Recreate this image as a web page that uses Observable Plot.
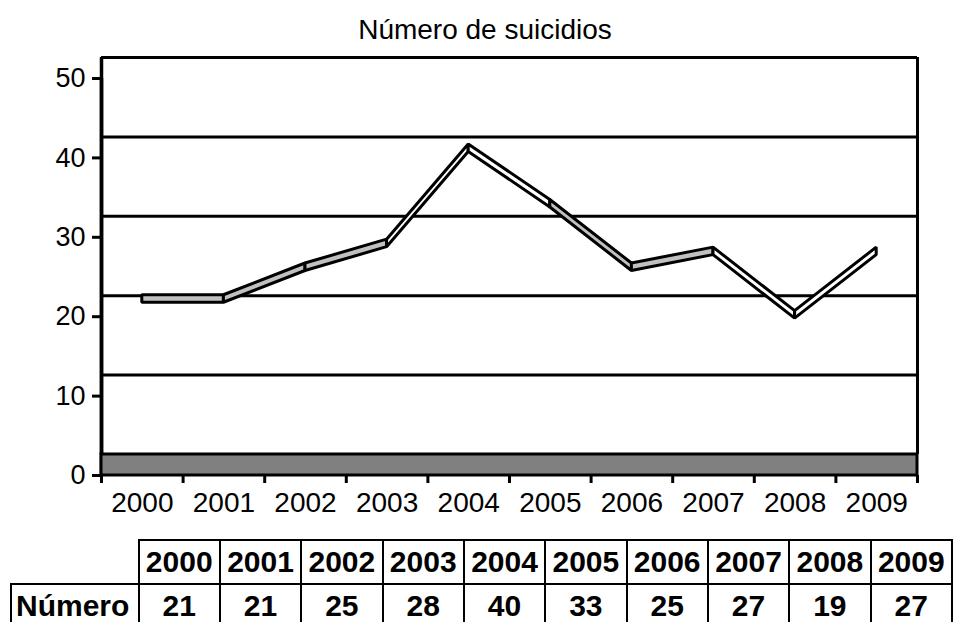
<!DOCTYPE html>
<html><head><meta charset="utf-8">
<script src="https://cdn.jsdelivr.net/npm/d3@7"></script>
<script src="https://cdn.jsdelivr.net/npm/@observablehq/plot@0.6"></script>
<style>
body{margin:0;background:#fff;font-family:"Liberation Sans",Arial,sans-serif;color:#000;width:953px;height:622px;overflow:hidden;position:relative}
#title{position:absolute;left:0;top:15px;width:970px;text-align:center;font-size:28px;line-height:30px}
#chart{position:absolute;left:0;top:50px}
table{position:absolute;left:10px;top:539px;border-collapse:collapse;table-layout:fixed;font-weight:bold;font-size:30px}
td{border:2.5px solid #000;height:42px;padding:0;text-align:center;vertical-align:middle;line-height:32px;white-space:nowrap;overflow:hidden}
td.blank{border-top:none;border-left:none}
td.rowlab{text-align:left;padding-left:4px}
</style></head><body>
<div id="title"></div>
<div id="chart"></div>
<table id="tbl"></table>
<script>
const chartTitle = "Número de suicidios";
const rowLabel = "Número";
const years = [2000, 2001, 2002, 2003, 2004, 2005, 2006, 2007, 2008, 2009];
const values = [21, 21, 25, 28, 40, 33, 25, 27, 19, 27];
const yTicks = [0, 10, 20, 30, 40, 50];

document.getElementById("title").textContent = chartTitle;

const H = 480, mT = 28, mB = 55;
const pxPerUnit = (H - mT - mB) / 50;
const wallDepth = 21;
const ribbonThick = 7.5;
const xDomain = [years[0] - 0.5, years[years.length - 1] + 0.5];
const boundaries = d3.range(xDomain[0], xDomain[1] + 0.01, 1);

const segs = d3.pairs(d3.range(years.length)).flatMap(([a, b], i) => [
  {seg: i, x: years[a], v: values[a]},
  {seg: i, x: years[b], v: values[b]}
]);
const iMax = d3.maxIndex(values), iMin = d3.minIndex(values);
const faceColor = i => (i === iMax || i + 1 === iMax || i === iMin || i + 1 === iMin) ? "white" : "#c0c0c0";

const chart = Plot.plot({
  width: 953, height: H,
  marginLeft: 101, marginRight: 36, marginTop: mT, marginBottom: mB,
  style: {fontFamily: "Liberation Sans, Arial, sans-serif", fontSize: "27px", color: "black", background: "white"},
  x: {domain: xDomain},
  y: {domain: [0, 50]},
  color: {type: "identity"},
  marks: [
    Plot.ruleY(yTicks.slice(1), {dy: -wallDepth, stroke: "black", strokeWidth: 3}),
    Plot.ruleX([xDomain[1]], {y1: () => 0, y2: () => 50, dy: -wallDepth, stroke: "black", strokeWidth: 3}),
    Plot.ruleX([xDomain[0]], {y1: () => 0, y2: () => 50, dy: -wallDepth, stroke: "black", strokeWidth: 3.5}),
    Plot.ruleX([xDomain[0]], {y1: () => 0, y2: () => 50, stroke: "black", strokeWidth: 3.5}),
    Plot.rect([0], {x1: () => xDomain[0], x2: () => xDomain[1], y1: () => 0, y2: () => wallDepth / pxPerUnit, fill: "#808080", stroke: "black", strokeWidth: 3}),
    Plot.areaY(segs, {x: "x", y1: "v", y2: d => d.v + ribbonThick / pxPerUnit, z: "seg", fill: d => faceColor(d.seg), stroke: "black", strokeWidth: 3, strokeLinejoin: "miter", dy: -6}),
    Plot.axisY(yTicks, {tickSize: 9, tickPadding: 7, fontSize: 27, stroke: "black", strokeWidth: 3, label: null}),
    Plot.axisX(years, {tickSize: 0, tickPadding: 17, fontSize: 28, label: null, tickFormat: d => String(d)}),
    Plot.axisX(boundaries, {tickSize: 8, stroke: "black", strokeWidth: 3, label: null, tickFormat: () => ""})
  ]
});
document.getElementById("chart").appendChild(chart);

const tbl = document.getElementById("tbl");
const colW = 82;
let html = '<colgroup><col style="width:128px">' + years.map(() => `<col style="width:${colW}px">`).join("") + '</colgroup>';
html += '<tr><td class="blank"></td>' + years.map(y => `<td>${y}</td>`).join("") + '</tr>';
html += `<tr><td class="rowlab">${rowLabel}</td>` + values.map(v => `<td>${v}</td>`).join("") + '</tr>';
tbl.innerHTML = html;
</script>
</body></html>
